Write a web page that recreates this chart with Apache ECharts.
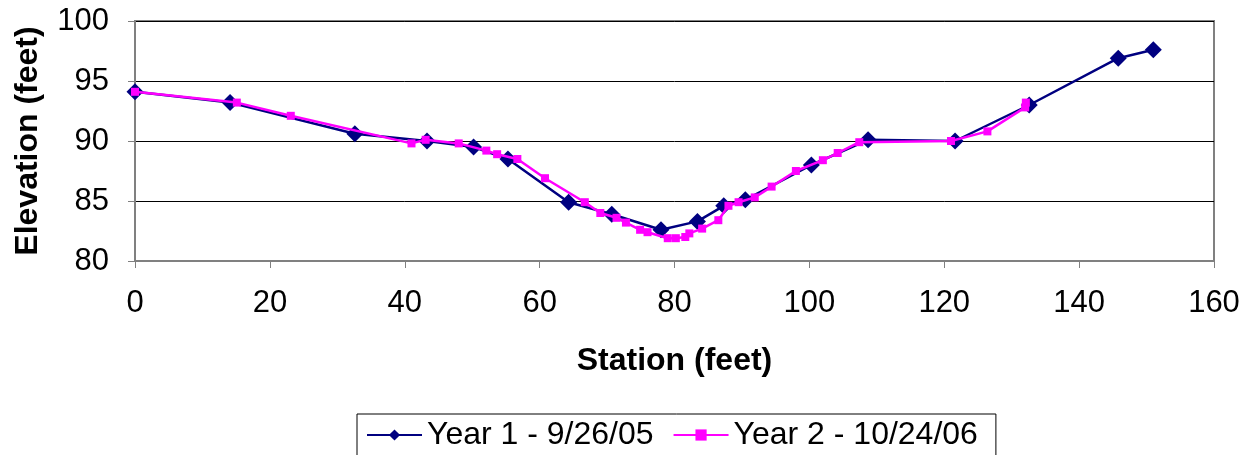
<!DOCTYPE html>
<html>
<head>
<meta charset="utf-8">
<script src="https://cdn.jsdelivr.net/npm/echarts@6/dist/echarts.min.js"></script>
<style>
  html, body { margin: 0; padding: 0; background: #fff; }
  #chart { width: 1252px; height: 455px; }
</style>
</head>
<body>
<div id="chart"></div>
<script>
// survey cross-section, station vs elevation
var year1Station = [0, 14.1, 32.6, 43.3, 50.2, 55.3, 64.3, 70.7, 78.0, 83.4, 87.3, 90.5, 100.3, 108.7, 121.6, 132.6, 145.8, 151.0];
var year1Elev    = [94.1, 93.2, 90.6, 90.0, 89.5, 88.5, 84.9, 83.9, 82.6, 83.3, 84.6, 85.1, 88.0, 90.1, 90.0, 93.0, 96.9, 97.6];

var year2Station = [0, 15.1, 23.1, 41.0, 43.1, 48.0, 52.1, 53.7, 56.7, 60.8, 66.7, 69.0, 71.4, 72.8, 74.9, 76.0, 79.0, 80.2, 81.6, 82.2, 84.1, 86.5, 88.0, 89.5, 91.9, 94.4, 98.0, 102.0, 104.2, 107.4, 121.0, 126.4, 132.0, 132.1];
var year2Elev    = [94.1, 93.2, 92.1, 89.8, 90.1, 89.8, 89.2, 88.9, 88.5, 86.9, 84.9, 84.0, 83.6, 83.2, 82.6, 82.4, 81.9, 81.9, 82.0, 82.3, 82.7, 83.4, 84.6, 84.9, 85.3, 86.2, 87.5, 88.4, 89.0, 89.9, 90.0, 90.8, 92.8, 93.2];

var seriesNames = ['Year 1 - 9/26/05', 'Year 2 - 10/24/06'];

function pairs(xs, ys) {
  var out = [];
  for (var i = 0; i < xs.length; i++) out.push([xs[i], ys[i]]);
  return out;
}

var font = 'Liberation Sans, Arial, sans-serif';
var myChart = echarts.init(document.getElementById('chart'));

var option = {
  animation: false,
  textStyle: { fontFamily: font },
  grid: {
    left: 135, right: 38, top: 21, bottom: 194,
    show: true, borderColor: '#808080', borderWidth: 2
  },
  legend: {
    left: 357, top: 414,
    data: seriesNames,
    borderColor: '#000', borderWidth: 1,
    padding: [5, 18, 10, 9],
    itemWidth: 55, itemHeight: 14, itemGap: 19,
    textStyle: { fontSize: 32, color: '#000', fontFamily: font }
  },
  xAxis: {
    type: 'value', min: 0, max: 160, interval: 20,
    name: 'Station (feet)', nameLocation: 'middle', nameGap: 84,
    nameTextStyle: { fontSize: 32, fontWeight: 'bold', color: '#000', fontFamily: font },
    axisLine: { lineStyle: { color: '#808080', width: 2 } },
    axisTick: { show: true, inside: false, length: 7, lineStyle: { color: '#808080' } },
    axisLabel: { margin: 27, fontSize: 31, color: '#000', fontFamily: font },
    splitLine: { show: false }
  },
  yAxis: {
    type: 'value', min: 80, max: 100, interval: 5,
    name: 'Elevation (feet)', nameLocation: 'middle', nameGap: 91,
    nameTextStyle: { fontSize: 32, fontWeight: 'bold', color: '#000', fontFamily: font },
    axisLine: { show: true, lineStyle: { color: '#808080', width: 2 } },
    axisTick: { show: true, inside: false, length: 7, lineStyle: { color: '#808080' } },
    axisLabel: { margin: 26, fontSize: 31, color: '#000', fontFamily: font },
    splitLine: { show: true, lineStyle: { color: '#000', width: 1 } }
  },
  series: [
    {
      name: seriesNames[0],
      type: 'line',
      data: pairs(year1Station, year1Elev),
      symbol: 'diamond', symbolSize: 17,
      color: '#000080',
      itemStyle: { color: '#000080' },
      lineStyle: { color: '#000080', width: 2.5 },
      z: 2
    },
    {
      name: seriesNames[1],
      type: 'line',
      data: pairs(year2Station, year2Elev),
      symbol: 'rect', symbolSize: 8,
      color: '#ff00ff',
      itemStyle: { color: '#ff00ff' },
      lineStyle: { color: '#ff00ff', width: 2.5 },
      z: 3
    }
  ]
};
myChart.setOption(option);
</script>
</body>
</html>
